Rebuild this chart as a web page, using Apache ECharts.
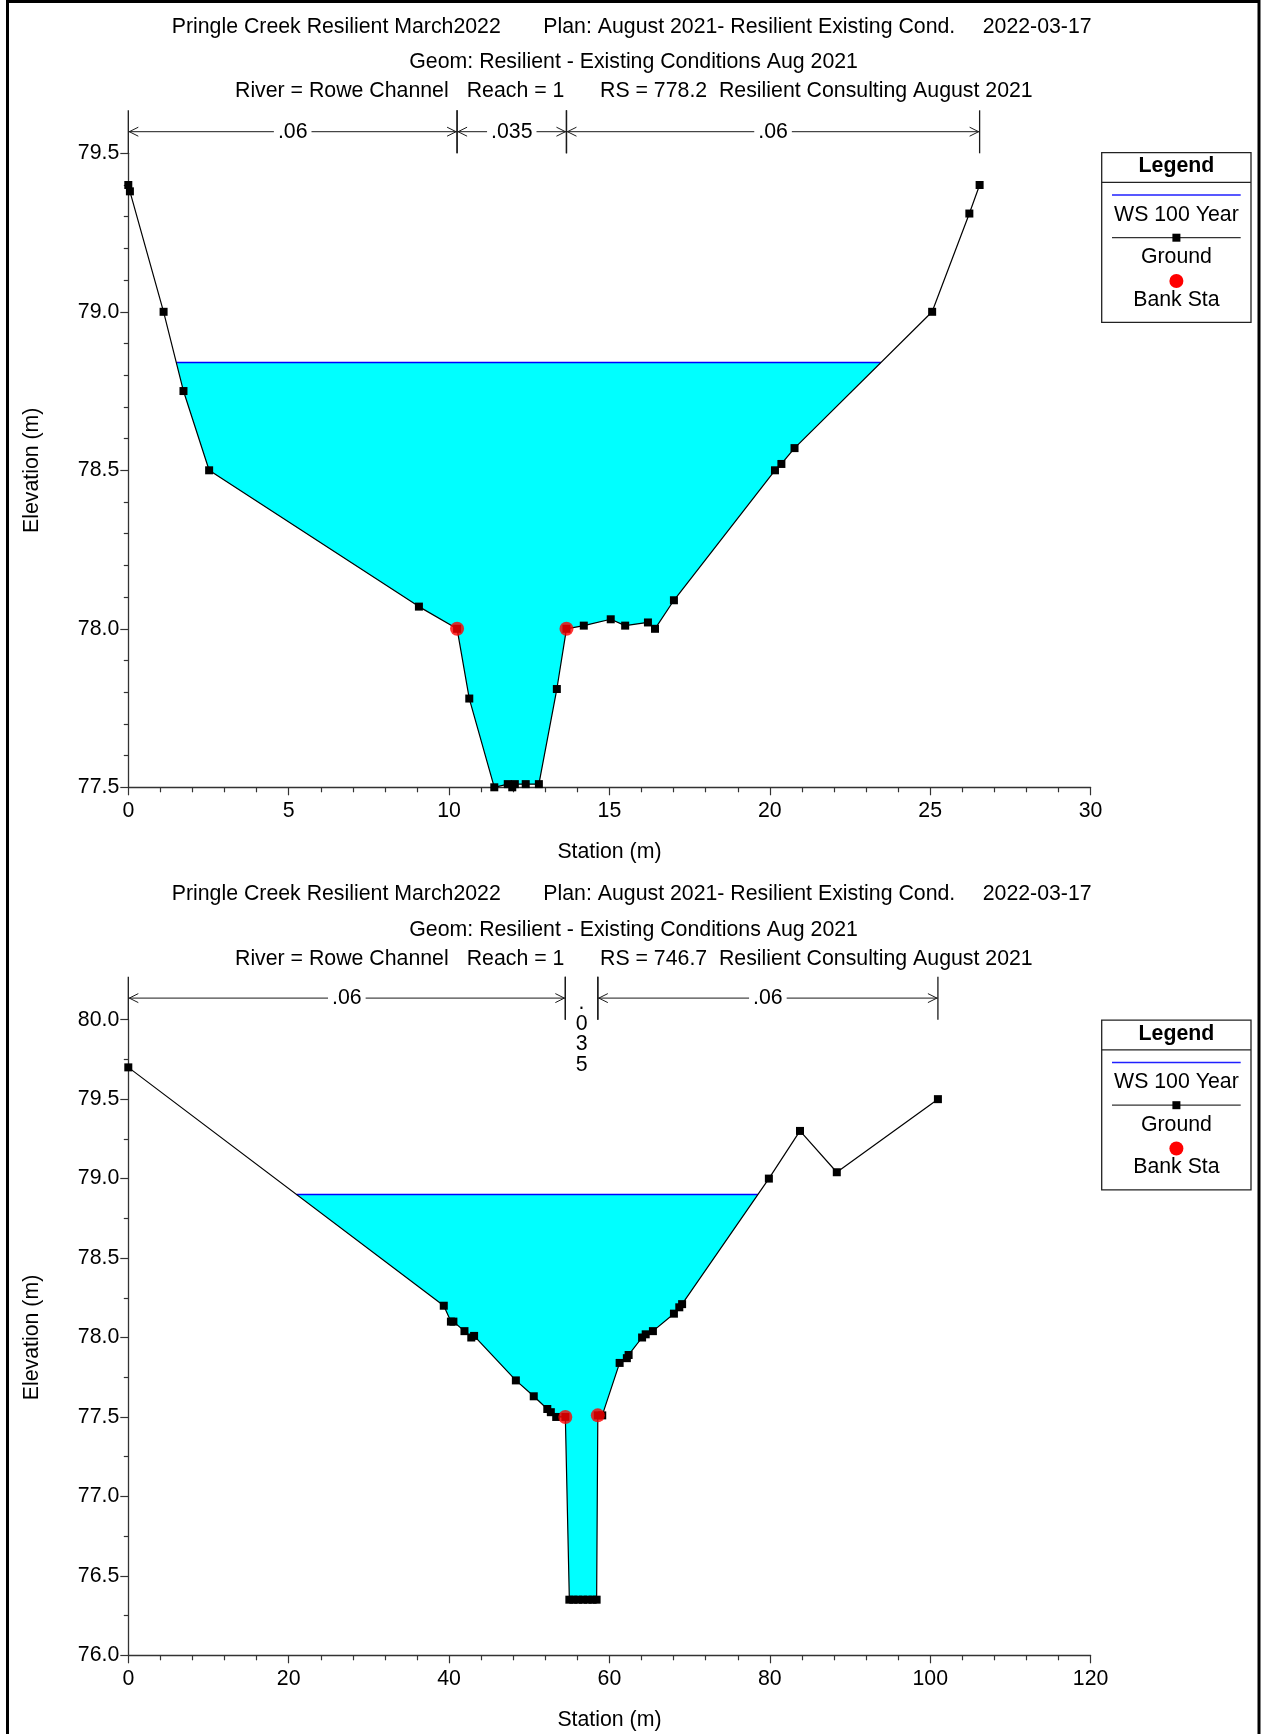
<!DOCTYPE html>
<html>
<head>
<meta charset="utf-8">
<script src="https://cdn.jsdelivr.net/npm/echarts@6/dist/echarts.min.js"></script>
<style>
html,body{margin:0;padding:0;background:#fff;}
#chart{width:1262px;height:1734px;}
</style>
</head>
<body>
<div id="chart"></div>
<script>
// ---------------- DATA ----------------
const titleLine1 = ['Pringle Creek Resilient March2022', 'Plan: August 2021- Resilient Existing Cond.', '2022-03-17'];
const titleLine2 = 'Geom: Resilient - Existing Conditions Aug 2021';
const titleLine3 = ['River = Rowe Channel', 'Reach = 1'];
const rsTitles = ['RS = 778.2  Resilient Consulting August 2021', 'RS = 746.7  Resilient Consulting August 2021'];
const legendLabels = ['Legend', 'WS 100 Year', 'Ground', 'Bank Sta'];
const xAxisTitle = 'Station (m)';
const yAxisTitle = 'Elevation (m)';

// Cross section RS 778.2
const xs1Station = [0, 0.05, 1.10, 1.72, 2.52, 9.06, 10.25, 10.63, 11.41, 11.83, 11.97, 12.05, 12.39, 12.80, 13.36, 13.66, 14.20, 15.04, 15.49, 16.20, 16.42, 17.01, 20.16, 20.36, 20.77, 25.06, 26.22, 26.54];
const xs1Elev    = [79.40, 79.38, 79.00, 78.75, 78.50, 78.07, 78.00, 77.78, 77.50, 77.51, 77.50, 77.51, 77.51, 77.51, 77.81, 78.00, 78.01, 78.03, 78.01, 78.02, 78.00, 78.09, 78.50, 78.52, 78.57, 79.00, 79.31, 79.40];
const xs1WS = 78.84;
const xs1BankStation = [10.25, 13.66];
const xs1BankElev = [78.00, 78.00];
const xs1NBreaks = [0, 10.25, 13.66, 26.54];
const xs1NValues = ['.06', '.035', '.06'];
const xs1XRange = [0, 30, 5];
const xs1YRange = [77.5, 79.5, 0.5];

// Cross section RS 746.7
const xs2Station = [0, 39.34, 40.23, 40.54, 41.92, 42.77, 43.12, 48.33, 50.56, 52.25, 52.69, 53.36, 54.50, 55.00, 55.50, 56.10, 56.70, 57.30, 57.90, 58.40, 58.55, 59.10, 61.27, 62.17, 62.39, 64.07, 64.52, 65.42, 68.04, 68.71, 69.06, 79.88, 83.76, 88.35, 100.96];
const xs2Elev    = [79.70, 78.20, 78.10, 78.10, 78.04, 78.00, 78.01, 77.73, 77.63, 77.55, 77.53, 77.50, 77.50, 76.35, 76.35, 76.35, 76.35, 76.35, 76.35, 76.35, 77.51, 77.51, 77.84, 77.87, 77.89, 78.00, 78.02, 78.04, 78.15, 78.19, 78.21, 79.00, 79.30, 79.04, 79.50];
const xs2WS = 78.90;
const xs2BankStation = [54.50, 58.55];
const xs2BankElev = [77.50, 77.51];
const xs2NBreaks = [0, 54.50, 58.55, 100.96];
const xs2NValues = ['.06', '.035', '.06'];
const xs2XRange = [0, 120, 20];
const xs2YRange = [76.0, 80.0, 0.5];

// ---------------- LAYOUT ----------------
const FONT = '"Liberation Sans", Arial, Helvetica, sans-serif';
const FS = 21.3;
const PANEL_DY = 867.5;
const GRID_LEFT = 128.3, GRID_W = 962.3;

function zip(a, b) { return a.map((v, i) => [v, b[i]]); }

function waterPolygon(st, el, ws) {
  let i0 = el.findIndex(e => e < ws);
  let i1 = -1;
  for (let i = el.length - 1; i >= 0; i--) { if (el[i] < ws) { i1 = i; break; } }
  const xL = st[i0 - 1] + (ws - el[i0 - 1]) * (st[i0] - st[i0 - 1]) / (el[i0] - el[i0 - 1]);
  const xR = st[i1] + (ws - el[i1]) * (st[i1 + 1] - st[i1]) / (el[i1 + 1] - el[i1]);
  const pts = [[xL, ws]];
  for (let i = i0; i <= i1; i++) pts.push([st[i], el[i]]);
  pts.push([xR, ws]);
  return pts;
}

function manningRenderer(labels, yTop) {
  return function (params, api) {
    const i = params.dataIndex;
    const p0 = api.coord([api.value(0), yTop]);
    const p1 = api.coord([api.value(1), yTop]);
    const top = p0[1];
    const barTop = top - 43;
    const ay = top - 21.6;
    const col = '#1a1a1a';
    const ch = [];
    ch.push({type: 'line', shape: {x1: p0[0], y1: barTop, x2: p0[0], y2: top}, style: {stroke: col, lineWidth: 1.3}});
    ch.push({type: 'line', shape: {x1: p1[0], y1: barTop, x2: p1[0], y2: top}, style: {stroke: col, lineWidth: 1.3}});
    const w = p1[0] - p0[0];
    if (w > 60) {
      ch.push({type: 'line', shape: {x1: p0[0], y1: ay, x2: p1[0], y2: ay}, style: {stroke: col, lineWidth: 1}});
      ch.push({type: 'polyline', shape: {points: [[p0[0] + 10, ay - 4.5], [p0[0] + 1, ay], [p0[0] + 10, ay + 4.5]]}, style: {stroke: col, lineWidth: 1, fill: null}});
      ch.push({type: 'polyline', shape: {points: [[p1[0] - 10, ay - 4.5], [p1[0] - 1, ay], [p1[0] - 10, ay + 4.5]]}, style: {stroke: col, lineWidth: 1, fill: null}});
      ch.push({type: 'text', x: (p0[0] + p1[0]) / 2, y: ay, style: {text: labels[i], fill: '#000', fontSize: FS, fontFamily: FONT, align: 'center', verticalAlign: 'middle', backgroundColor: '#fff', padding: [0, 4]}});
    } else {
      ch.push({type: 'text', x: (p0[0] + p1[0]) / 2, y: top - 26.5, style: {text: labels[i].split('').join('\n'), fill: '#000', fontSize: FS, fontFamily: FONT, align: 'center', verticalAlign: 'top', lineHeight: 20.5}});
    }
    return {type: 'group', children: ch};
  };
}

function titleGraphics(dy, rs) {
  const t = (text, x, y) => ({type: 'text', x: x, y: y + dy, style: {text: text, fill: '#000', fontSize: FS, fontFamily: FONT, verticalAlign: 'middle'}});
  return [
    t(titleLine1[0], 171.7, 26.7), t(titleLine1[1], 543.3, 26.7), t(titleLine1[2], 982.7, 26.7),
    t(titleLine2, 409.3, 62.5),
    t(titleLine3[0], 235, 91.5), t(titleLine3[1], 466.7, 91.5), t(rs, 600, 91.5)
  ];
}

function legendGraphics(dy) {
  const cx = 1176.4;
  const txt = (text, y, bold) => ({type: 'text', x: cx, y: y + dy, style: {text: text, fill: '#000', fontSize: FS, fontFamily: FONT, fontWeight: bold ? 'bold' : 'normal', align: 'center', verticalAlign: 'middle'}});
  return [
    {type: 'rect', shape: {x: 1101.7, y: 152.7 + dy, width: 149.3, height: 169.6}, style: {fill: '#fff', stroke: '#222', lineWidth: 1.3}},
    txt(legendLabels[0], 166.5, true),
    {type: 'line', shape: {x1: 1101.7, y1: 182.3 + dy, x2: 1251, y2: 182.3 + dy}, style: {stroke: '#222', lineWidth: 1.3}},
    {type: 'line', shape: {x1: 1112, y1: 195 + dy, x2: 1240.7, y2: 195 + dy}, style: {stroke: '#2020ff', lineWidth: 1.3}},
    txt(legendLabels[1], 215, false),
    {type: 'line', shape: {x1: 1112, y1: 237.7 + dy, x2: 1240.7, y2: 237.7 + dy}, style: {stroke: '#333', lineWidth: 1.3}},
    {type: 'rect', shape: {x: cx - 4, y: 233.7 + dy, width: 8, height: 8}, style: {fill: '#000'}},
    txt(legendLabels[2], 257.5, false),
    {type: 'circle', shape: {cx: cx, cy: 281 + dy, r: 7}, style: {fill: '#ff0000'}},
    txt(legendLabels[3], 300, false)
  ];
}

function xAxisCfg(gi, range, minorSplit) {
  return {
    type: 'value', gridIndex: gi, min: range[0], max: range[1], interval: range[2],
    name: xAxisTitle, nameLocation: 'middle', nameGap: 54,
    nameTextStyle: {fontSize: FS, fontFamily: FONT, color: '#000'},
    axisLine: {show: true, lineStyle: {color: '#333', width: 1.3}},
    axisTick: {show: true, length: 8, lineStyle: {color: '#333', width: 1.2}},
    minorTick: {show: true, splitNumber: minorSplit, length: 5, lineStyle: {color: '#333', width: 1.2}},
    splitLine: {show: false}, minorSplitLine: {show: false},
    axisLabel: {fontSize: FS, fontFamily: FONT, color: '#000', margin: 13}
  };
}
function yAxisCfg(gi, range, minorSplit) {
  return {
    type: 'value', gridIndex: gi, min: range[0], max: range[1], interval: range[2],
    name: yAxisTitle, nameLocation: 'middle', nameGap: 86,
    nameTextStyle: {fontSize: FS, fontFamily: FONT, color: '#000'},
    axisLine: {show: true, lineStyle: {color: '#333', width: 1.3}},
    axisTick: {show: true, length: 8, lineStyle: {color: '#333', width: 1.2}},
    minorTick: {show: true, splitNumber: minorSplit, length: 4.5, lineStyle: {color: '#333', width: 1.2}},
    splitLine: {show: false}, minorSplitLine: {show: false},
    axisLabel: {fontSize: FS, fontFamily: FONT, color: '#000', margin: 9, formatter: v => v.toFixed(1)}
  };
}

function panelSeries(gi, st, el, ws, bankSt, bankEl, nBreaks, nValues, yTop) {
  const water = waterPolygon(st, el, ws);
  const wsLine = [water[0], water[water.length - 1]];
  const nData = nValues.map((v, i) => [nBreaks[i], nBreaks[i + 1]]);
  return [
    {type: 'custom', xAxisIndex: gi, yAxisIndex: gi, silent: true, z: 1, data: [water[0]],
      renderItem: (params, api) => ({type: 'polygon', shape: {points: water.map(p => api.coord(p))}, style: {fill: '#00ffff'}})},
    {type: 'line', xAxisIndex: gi, yAxisIndex: gi, z: 2, data: wsLine, symbol: 'none', lineStyle: {color: '#0000ff', width: 1.5}},
    {type: 'line', xAxisIndex: gi, yAxisIndex: gi, z: 3, data: zip(st, el), symbol: 'rect', symbolSize: 8, showAllSymbol: true, clip: false,
      lineStyle: {color: '#000', width: 1.2}, itemStyle: {color: '#000'}},
    {type: 'scatter', xAxisIndex: gi, yAxisIndex: gi, z: 4, data: zip(bankSt, bankEl), symbol: 'circle', symbolSize: 14, itemStyle: {color: '#ff0000'}},
    {type: 'custom', xAxisIndex: gi, yAxisIndex: gi, silent: true, z: 5, clip: false, data: nData, renderItem: manningRenderer(nValues, yTop)}
  ];
}

const chart = echarts.init(document.getElementById('chart'), null, {renderer: 'canvas'});
chart.setOption({
  animation: false,
  backgroundColor: '#fff',
  grid: [
    {left: GRID_LEFT, top: 153.3, width: GRID_W, height: 634},
    {left: GRID_LEFT, top: 1019.7, width: GRID_W, height: 635.6}
  ],
  xAxis: [xAxisCfg(0, xs1XRange, 5), xAxisCfg(1, xs2XRange, 5)],
  yAxis: [yAxisCfg(0, xs1YRange, 5), yAxisCfg(1, xs2YRange, 2)],
  series: [].concat(
    panelSeries(0, xs1Station, xs1Elev, xs1WS, xs1BankStation, xs1BankElev, xs1NBreaks, xs1NValues, xs1YRange[1]),
    panelSeries(1, xs2Station, xs2Elev, xs2WS, xs2BankStation, xs2BankElev, xs2NBreaks, xs2NValues, xs2YRange[1])
  ),
  graphic: [].concat(
    titleGraphics(0, rsTitles[0]),
    titleGraphics(PANEL_DY, rsTitles[1]),
    legendGraphics(0),
    legendGraphics(PANEL_DY),
    [{type: 'polyline', shape: {points: [[7.5, 1734], [7.5, 1.5], [1259, 1.5], [1259, 1734]]}, style: {fill: null, stroke: '#000', lineWidth: 3}, z: 100}]
  )
});
</script>
</body>
</html>
